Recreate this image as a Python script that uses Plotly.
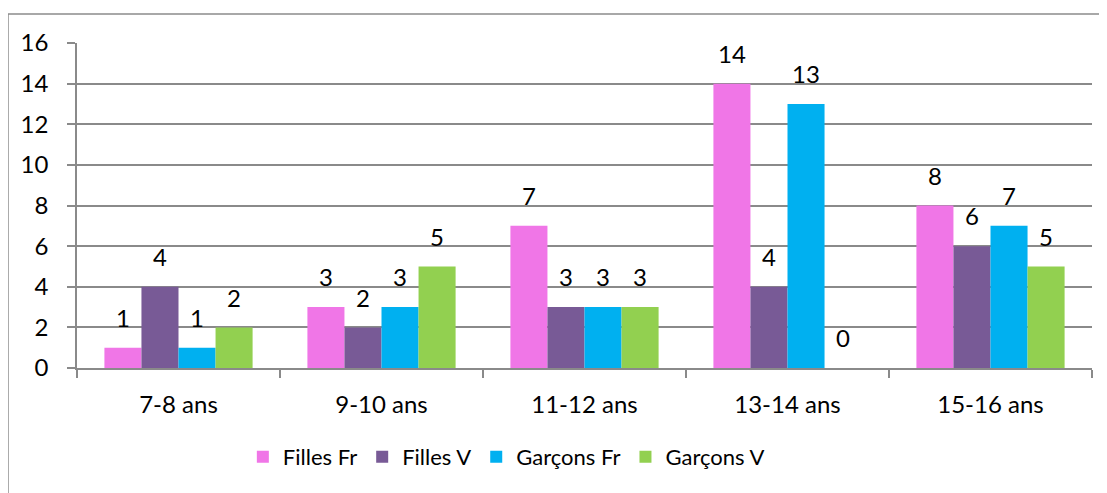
import plotly.graph_objects as go

categories = ["7-8 ans", "9-10 ans", "11-12 ans", "13-14 ans", "15-16 ans"]
series_names = ["Filles Fr", "Filles V", "Garçons Fr", "Garçons V"]
filles_fr = [1, 3, 7, 14, 8]
filles_v = [4, 2, 3, 4, 6]
garcons_fr = [1, 3, 3, 13, 7]
garcons_v = [2, 5, 3, 0, 5]
y_ticks = [0, 2, 4, 6, 8, 10, 12, 14, 16]

values = [filles_fr, filles_v, garcons_fr, garcons_v]
colors = ["#F076E7", "#785A96", "#00B0F0", "#92D050"]
FONT = "Lato, 'Open Sans', sans-serif"

fig = go.Figure()
for i, (name, vals, col) in enumerate(zip(series_names, values, colors)):
    fig.add_trace(go.Bar(
        x=categories, y=vals, name=name, marker=dict(color=col, line=dict(width=0)),
        offsetgroup=str(i), alignmentgroup="a", hoverinfo="skip",
    ))
for i, vals in enumerate(values):
    fig.add_trace(go.Scatter(
        x=categories, y=vals, mode="markers+text", text=[str(v) for v in vals],
        textposition="top center", textfont=dict(size=24, color="#000000", family=FONT),
        marker=dict(size=22, opacity=0), offsetgroup=str(i), alignmentgroup="a",
        showlegend=False, hoverinfo="skip", cliponaxis=False,
    ))

# the page body adds an 8px offset, so the figure is 8px smaller and margins shifted
fig.update_layout(
    width=1099, height=485,
    margin=dict(l=69, r=15, t=35, b=125),
    paper_bgcolor="white", plot_bgcolor="white",
    barmode="group", scattermode="group", bargap=0.27, bargroupgap=0, scattergap=0.27,
    font=dict(family=FONT, size=24, color="#000000"),
    legend=dict(orientation="h", x=0.423, xanchor="center", y=-0.274, yanchor="middle",
                font=dict(size=22), traceorder="normal", itemwidth=30),
    showlegend=True,
    shapes=[dict(type="rect", xref="paper", yref="paper", x0=-0.068, x1=1.05, y0=-0.6, y1=1.089,
                 line=dict(color="#8c8c8c", width=1.5), layer="below")],
)
fig.update_xaxes(
    showgrid=False, showline=True, linecolor="#8a8a8a", linewidth=1.5,
    ticks="outside", ticklen=8, tickcolor="#8a8a8a", tickwidth=1.5, tickson="boundaries",
    ticklabelstandoff=14,
)
fig.update_yaxes(
    range=[0, 16], tickvals=y_ticks, showgrid=True, gridcolor="#8a8a8a", gridwidth=1.5,
    showline=True, linecolor="#8a8a8a", linewidth=1.5, zeroline=False,
    ticks="outside", ticklen=8, tickcolor="#8a8a8a", tickwidth=1.5, ticklabelstandoff=14,
)
fig.write_html("out.html")
